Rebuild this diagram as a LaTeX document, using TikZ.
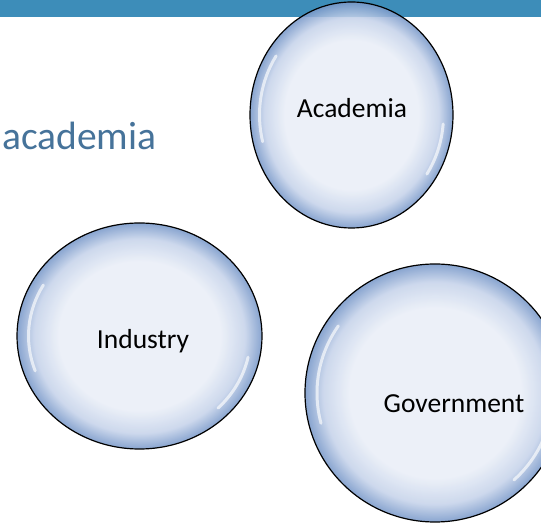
\documentclass[tikz,border=0pt]{standalone}
\usepackage{fontspec}
\setmainfont{Carlito}
\usepackage{tikz}

\definecolor{barblue}{HTML}{3D8DB9}
\definecolor{titleblue}{HTML}{46739A}
\definecolor{bubin}{HTML}{E9EEF7}
\definecolor{bubmid}{HTML}{C6D3EA}
\definecolor{bubout}{HTML}{7898C9}

\pgfdeclareradialshading{bubbleshade}{\pgfpoint{0bp}{0bp}}{%
  color(0bp)=(bubin); color(16.5bp)=(bubin); color(21.5bp)=(bubmid);
  color(25bp)=(bubout); color(50bp)=(bubout)}

\tikzset{
  bubble/.style={shading=bubbleshade, draw=black, line width=1.2pt, fill opacity=0.88},
  shine/.style={draw=white, line width=3pt, line cap=round, opacity=0.65},
  bublabel/.style={inner sep=0pt, font=\fontsize{27.5}{33}\selectfont, anchor=base},
}

\begin{document}
\begin{tikzpicture}[x=1pt,y=1pt]
            \clip (0,0) rectangle (541,527);
            \fill[barblue] (0,509.5) rectangle (541,527);

            \coordinate (acad) at (351.5,412);
            \coordinate (ind) at (139.5,191);
            \coordinate (gov) at (435,134);

            \shade[bubble] (acad) ellipse [x radius=101.5, y radius=113];
            \shade[bubble] (ind) ellipse [x radius=122.5, y radius=113];
            \shade[bubble] (gov) ellipse [x radius=130, y radius=129];

            % light on the rims
            \draw[shine] (acad) ++(145:92 and 103) arc[start angle=145, end angle=195, x radius=92, y radius=103];
            \draw[shine] (acad) ++(-5:92 and 103) arc[start angle=-5, end angle=-35, x radius=92, y radius=103];
            \draw[shine] (ind) ++(150:111 and 102) arc[start angle=150, end angle=200, x radius=111, y radius=102];
            \draw[shine] (ind) ++(-12:111 and 102) arc[start angle=-12, end angle=-45, x radius=111, y radius=102];
            \draw[shine] (gov) ++(145:118 and 117) arc[start angle=145, end angle=195, x radius=118, y radius=117];
            \draw[shine] (gov) ++(-15:118 and 117) arc[start angle=-15, end angle=-48, x radius=118, y radius=117];

            \node[bublabel] (acadtxt) at (352,409) {Academia};
            \node[bublabel] (indtxt) at (143,178) {Industry};
            \node[bublabel] (govtxt) at (454,114) {Government};

            \node[inner sep=0pt, anchor=base west, text=titleblue, font=\fontsize{39.5}{46}\selectfont] (title) at (2,377) {academia};
        \end{tikzpicture}
\end{document}
